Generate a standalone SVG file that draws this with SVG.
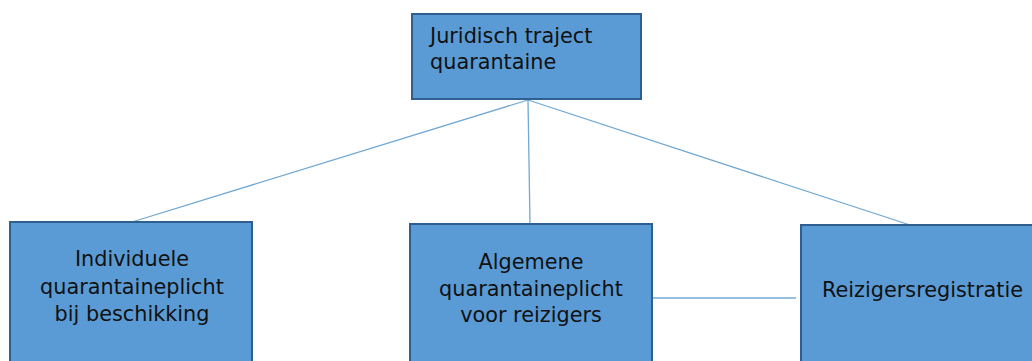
<svg xmlns="http://www.w3.org/2000/svg" width="1032" height="361" viewBox="0 0 1032 361">
<style>
.box{fill:#5B9BD5;stroke:#2F5F8F;stroke-width:2}
.t{font-family:"DejaVu Sans",Verdana,sans-serif;font-size:20.8px;fill:#111}
.c{text-anchor:middle}
.ln{stroke:#72A9D4;stroke-width:1.3;fill:none}
</style>
<rect width="1032" height="361" fill="#fff"/>
<g id="connectors">
<line class="ln" x1="528" y1="100" x2="132" y2="222"/>
<line class="ln" x1="528" y1="100" x2="530" y2="224"/>
<line class="ln" x1="528" y1="100" x2="910" y2="225"/>
<line class="ln" x1="653" y1="298" x2="796" y2="298"/>
</g>
<g id="juridisch">
<rect class="box" x="412" y="14" width="229" height="85"/>
<text class="t" x="430" y="43">Juridisch traject</text>
<text class="t" x="430" y="69">quarantaine</text>
</g>
<g id="individuele">
<rect class="box" x="10" y="222" width="242" height="150"/>
<text class="t c" x="132" y="266">Individuele</text>
<text class="t c" x="132" y="294">quarantaineplicht</text>
<text class="t c" x="132" y="321">bij beschikking</text>
</g>
<g id="algemene">
<rect class="box" x="410" y="224" width="242" height="150"/>
<text class="t c" x="531" y="269">Algemene</text>
<text class="t c" x="531" y="296">quarantaineplicht</text>
<text class="t c" x="531" y="322">voor reizigers</text>
</g>
<g id="reizigers">
<rect class="box" x="801" y="225" width="242" height="150"/>
<text class="t" x="822" y="297">Reizigersregistratie</text>
</g>
</svg>
